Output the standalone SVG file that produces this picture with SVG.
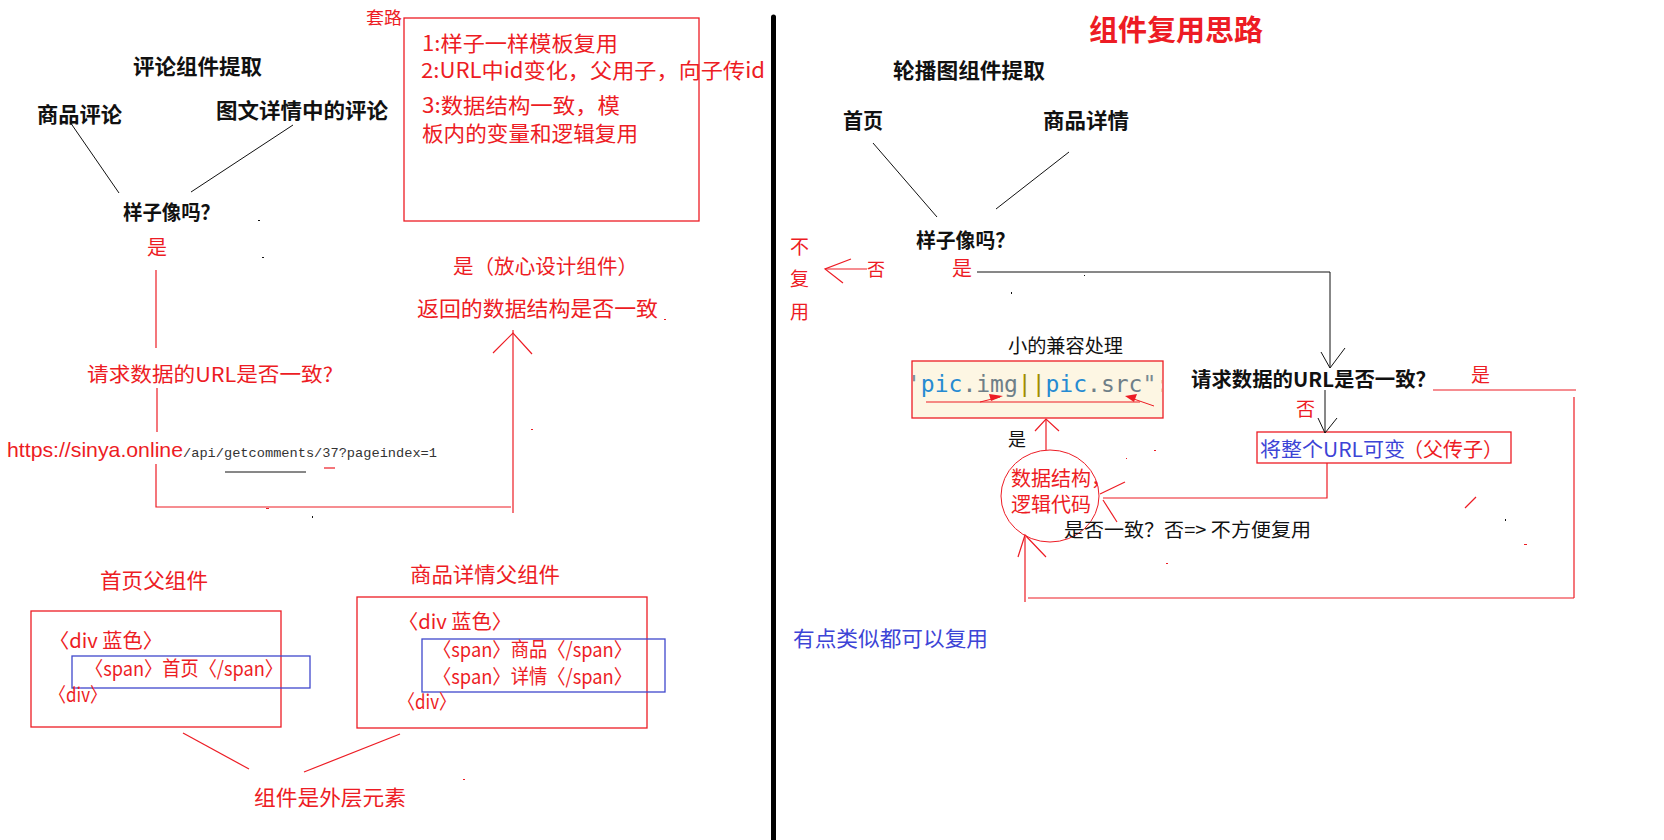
<svg xmlns="http://www.w3.org/2000/svg" width="1664" height="840" viewBox="0 0 1664 840">
  <style>
    .cjk { font-family: "Noto Sans CJK SC", "Noto Sans", sans-serif; }
    .red { fill: #ed1c24; }
    .blk { fill: #111111; }
    .blu { fill: #3d44d6; }
    .t20 { font-size: 20px; }
    .t21 { font-size: 21px; }
    .t19 { font-size: 19px; }
    .t18 { font-size: 18px; }
    .bold { font-weight: 600; }
    .ln  { fill: none; stroke: #111111; stroke-width: 1; }
    .rl  { fill: none; stroke: #ed1c24; stroke-width: 1.2; }
    .rbox { fill: none; stroke: #ed1c24; stroke-width: 1.3; }
    .bbox { fill: none; stroke: #3f48cc; stroke-width: 1.3; }
    .code { font-family: "DejaVu Sans Mono", "Liberation Mono", monospace; font-size: 23px; }
    .dot { fill: #111111; }
    .rdot { fill: #ed1c24; }
  </style>
  <defs>
    <clipPath id="codeClip">
      <rect x="913" y="362" width="249" height="55"/>
    </clipPath>
  </defs>

  <rect x="0" y="0" width="1664" height="840" fill="#ffffff"/>

  <!-- divider between the two halves -->
  <line x1="773.5" y1="17" x2="773.5" y2="840" stroke="#000000" stroke-width="5" stroke-linecap="round"/>

  <!-- ========== left half: comment component ========== -->
  <g id="title-comment">
    <text class="cjk blk t21 bold" x="133" y="73.5" textLength="129" lengthAdjust="spacingAndGlyphs">评论组件提取</text>
  </g>
  <g id="node-goods-comment">
    <text class="cjk blk t21 bold" x="37" y="121.5" textLength="85" lengthAdjust="spacingAndGlyphs">商品评论</text>
  </g>
  <g id="node-detail-comment">
    <text class="cjk blk t21 bold" x="216" y="117.5" textLength="172" lengthAdjust="spacingAndGlyphs">图文详情中的评论</text>
  </g>
  <g id="node-alike-left">
    <text class="cjk blk t20 bold" x="123" y="220" textLength="97" lengthAdjust="spacingAndGlyphs">样子像吗？</text>
  </g>
  <g id="label-yes-left">
    <text class="cjk red t20" x="147" y="255">是</text>
  </g>
  <g id="node-url-same-left">
    <text class="cjk red t20" x="87" y="381.5" textLength="246" lengthAdjust="spacingAndGlyphs">请求数据的URL是否一致?</text>
  </g>
  <g id="node-url">
    <text x="7" y="457" font-family="Liberation Sans, Arial, sans-serif" font-size="21" fill="#ed1c24" textLength="176" lengthAdjust="spacingAndGlyphs">https://sinya.online</text>
    <text x="183" y="457" font-family="Liberation Mono, DejaVu Sans Mono, monospace" font-size="13.6" fill="#333333" textLength="254" lengthAdjust="spacingAndGlyphs">/api/getcomments/37?pageindex=1</text>
    <line x1="225" y1="472" x2="306" y2="472" stroke="#111111" stroke-width="1"/>
    <line x1="324" y1="468" x2="335" y2="468" stroke="#ed1c24" stroke-width="1.2"/>
  </g>
  <g id="node-design-ok">
    <text class="cjk red t20" x="453" y="273.5" textLength="185" lengthAdjust="spacingAndGlyphs">是（放心设计组件）</text>
  </g>
  <g id="node-data-same-left">
    <text class="cjk red t21" x="417" y="316" textLength="241" lengthAdjust="spacingAndGlyphs">返回的数据结构是否一致</text>
  </g>

  <g id="node-routine">
    <text class="cjk red" font-size="17" x="366" y="24" textLength="36" lengthAdjust="spacingAndGlyphs">套路</text>
    <rect class="rbox" x="404" y="18" width="295" height="203"/>
    <text class="cjk red t21" x="422" y="50.5" textLength="196" lengthAdjust="spacingAndGlyphs">1:样子一样模板复用</text>
    <text class="cjk red t21" x="421" y="77.5" textLength="344" lengthAdjust="spacingAndGlyphs">2:URL中id变化，父用子，向子传id</text>
    <text class="cjk red t21" x="422" y="112.5" textLength="198" lengthAdjust="spacingAndGlyphs">3:数据结构一致，模</text>
    <text class="cjk red t21" x="422" y="140.5" textLength="216" lengthAdjust="spacingAndGlyphs">板内的变量和逻辑复用</text>
  </g>

  <g id="node-home-parent">
    <text class="cjk red t21" x="100" y="588" textLength="108" lengthAdjust="spacingAndGlyphs">首页父组件</text>
    <rect class="rbox" x="31" y="611" width="250" height="116"/>
    <rect class="bbox" x="72" y="656" width="238" height="32"/>
    <text class="cjk red t20" x="49" y="647.5" textLength="114" lengthAdjust="spacingAndGlyphs">〈div 蓝色〉</text>
    <text class="cjk red t20" x="85" y="675.5" textLength="198" lengthAdjust="spacingAndGlyphs">〈span〉首页〈/span〉</text>
    <text class="cjk red t20" x="49" y="701.5" textLength="58" lengthAdjust="spacingAndGlyphs">〈div〉</text>
  </g>

  <g id="node-detail-parent">
    <text class="cjk red t21" x="410" y="582" textLength="150" lengthAdjust="spacingAndGlyphs">商品详情父组件</text>
    <rect class="rbox" x="357" y="597" width="290" height="131"/>
    <rect class="bbox" x="422" y="639" width="243" height="53"/>
    <text class="cjk red t20" x="398" y="629" textLength="114" lengthAdjust="spacingAndGlyphs">〈div 蓝色〉</text>
    <text class="cjk red t20" x="433" y="656.5" textLength="199" lengthAdjust="spacingAndGlyphs">〈span〉商品〈/span〉</text>
    <text class="cjk red t20" x="433" y="683.5" textLength="199" lengthAdjust="spacingAndGlyphs">〈span〉详情〈/span〉</text>
    <text class="cjk red t20" x="398" y="708.5" textLength="58" lengthAdjust="spacingAndGlyphs">〈div〉</text>
  </g>

  <g id="node-outer-element">
    <text class="cjk red t21" x="254" y="805" textLength="152" lengthAdjust="spacingAndGlyphs">组件是外层元素</text>
  </g>

  <!-- ========== right half: carousel component ========== -->
  <g id="title-main">
    <text class="cjk red bold" font-size="29" x="1089" y="41" font-weight="bold" textLength="174" lengthAdjust="spacingAndGlyphs">组件复用思路</text>
  </g>
  <g id="title-carousel">
    <text class="cjk blk t21 bold" x="893" y="77.5" textLength="152" lengthAdjust="spacingAndGlyphs">轮播图组件提取</text>
  </g>
  <g id="node-home">
    <text class="cjk blk t21 bold" x="843" y="127.5" textLength="40" lengthAdjust="spacingAndGlyphs">首页</text>
  </g>
  <g id="node-goods-detail">
    <text class="cjk blk t21 bold" x="1043" y="127.5" textLength="86" lengthAdjust="spacingAndGlyphs">商品详情</text>
  </g>
  <g id="node-alike-right">
    <text class="cjk blk t20 bold" x="916" y="247.5" textLength="99" lengthAdjust="spacingAndGlyphs">样子像吗？</text>
  </g>
  <g id="node-no-reuse">
    <text class="cjk red t19" x="790" y="253.5">不</text>
    <text class="cjk red t19" x="790" y="285.5">复</text>
    <text class="cjk red t19" x="790" y="319">用</text>
  </g>
  <g id="label-no-right">
    <text class="cjk red t18" x="867" y="276">否</text>
  </g>
  <g id="label-yes-right">
    <text class="cjk red t20" x="952" y="276">是</text>
  </g>
  <g id="node-url-same-right">
    <text class="cjk blk t20 bold" x="1191" y="386.5" textLength="245" lengthAdjust="spacingAndGlyphs">请求数据的URL是否一致？</text>
  </g>
  <g id="label-yes-url">
    <text class="cjk red t19" x="1471" y="381.5">是</text>
  </g>
  <g id="label-no-url">
    <text class="cjk red t19" x="1296" y="415.5">否</text>
  </g>
  <g id="node-url-variable">
    <rect class="rbox" x="1257" y="432" width="254" height="31"/>
    <text class="cjk blu t20" x="1260" y="457" textLength="145" lengthAdjust="spacingAndGlyphs">将整个URL可变</text>
    <text class="cjk red t20" x="1403" y="457" textLength="100" lengthAdjust="spacingAndGlyphs">（父传子）</text>
  </g>
  <g id="node-compat">
    <text class="cjk blk t19" x="1008" y="353" textLength="115" lengthAdjust="spacingAndGlyphs">小的兼容处理</text>
    <rect x="912" y="361" width="251" height="57" fill="#fdf6e3" stroke="#ed1c24" stroke-width="1.3"/>
    <text class="code" x="907" y="392" clip-path="url(#codeClip)"><tspan fill="#7a8a92">'</tspan><tspan fill="#268bd2">pic</tspan><tspan fill="#6f7f88">.img</tspan><tspan fill="#a08c00">||</tspan><tspan fill="#268bd2">pic</tspan><tspan fill="#6f7f88">.src</tspan><tspan fill="#7a8a92">":</tspan></text>
    <line x1="926" y1="402" x2="1140" y2="402" stroke="#ed1c24" stroke-width="1.2"/>
    <line x1="980" y1="402" x2="1000" y2="397" stroke="#ed1c24" stroke-width="1"/>
    <polygon points="1003,396 989,394 991,401" fill="#ed1c24"/>
    <line x1="1154" y1="406" x2="1128" y2="397" stroke="#ed1c24" stroke-width="1"/>
    <polygon points="1125,396 1137,394 1134,402" fill="#ed1c24"/>
  </g>
  <g id="label-yes-compat">
    <text class="cjk blk t18" x="1008" y="445.5">是</text>
  </g>
  <g id="node-data-logic">
    <ellipse cx="1050" cy="496" rx="49" ry="46" fill="none" stroke="#ed1c24" stroke-width="1"/>
    <text class="cjk red t20" x="1011" y="485.5" textLength="100" lengthAdjust="spacingAndGlyphs">数据结构，</text>
    <text class="cjk red t20" x="1011" y="512" textLength="80" lengthAdjust="spacingAndGlyphs">逻辑代码</text>
  </g>
  <g id="node-data-same-right">
    <text class="cjk blk t19" x="1064" y="537" textLength="247" lengthAdjust="spacingAndGlyphs">是否一致？否=&gt; 不方便复用</text>
  </g>
  <g id="node-similar">
    <text class="cjk blu t21" x="793" y="646" textLength="195" lengthAdjust="spacingAndGlyphs">有点类似都可以复用</text>
  </g>

  <!-- ========== connectors ========== -->
  <g id="connectors">
    <!-- left tree -->
    <line class="ln" x1="70" y1="122" x2="119" y2="193"/>
    <line class="ln" x1="293" y1="125" x2="191" y2="192"/>
    <line class="rl" x1="156" y1="270" x2="156" y2="348"/>
    <line class="rl" x1="157" y1="388" x2="157" y2="432"/>
    <polyline class="rl" points="156,464 156,507 511,507"/>
    <line class="rl" x1="513" y1="330" x2="513" y2="513"/>
    <polyline class="rl" points="493,353 513,333 532,354"/>
    <line class="rl" x1="183" y1="733" x2="249" y2="769"/>
    <line class="rl" x1="400" y1="734" x2="304" y2="772"/>

    <!-- right tree -->
    <line class="ln" x1="873" y1="143" x2="937" y2="217"/>
    <line class="ln" x1="1069" y1="152" x2="996" y2="209"/>
    <line class="rl" x1="825" y1="269" x2="867" y2="269"/>
    <polyline class="rl" points="851,259 825,269 843,283"/>
    <polyline class="ln" points="977,272 1330,272 1330,368"/>
    <polyline class="ln" points="1321,352 1330,368 1345,348"/>
    <line class="ln" x1="1325" y1="390" x2="1325" y2="433"/>
    <polyline class="ln" points="1318,418 1325,433 1337,418"/>
    <polyline class="rl" points="1433,390 1576,390"/>
    <line class="rl" x1="1574" y1="397" x2="1574" y2="598"/>
    <line class="rl" x1="1028" y1="598" x2="1574" y2="598"/>
    <line class="rl" x1="1025" y1="602" x2="1025" y2="537"/>
    <polyline class="rl" points="1018,557 1025,535 1046,557"/>
    <polyline class="rl" points="1327,463 1327,498 1103,498"/>
    <line class="rl" x1="1125" y1="482" x2="1100" y2="494"/>
    <line class="rl" x1="1117" y1="522" x2="1103" y2="500"/>
    <line class="rl" x1="1046" y1="450" x2="1046" y2="419"/>
    <polyline class="rl" points="1035,431 1046,419 1059,431"/>
    <line class="rl" x1="1465" y1="508" x2="1476" y2="497"/>
  </g>

  <!-- stray pen marks -->
  <g id="marks">
    <rect class="dot" x="258" y="220" width="2" height="1"/>
    <rect class="dot" x="262" y="257" width="2" height="1"/>
    <rect class="rdot" x="664" y="319" width="2" height="1"/>
    <rect class="rdot" x="531" y="429" width="2" height="1"/>
    <rect class="rdot" x="266" y="508" width="3" height="1"/>
    <rect class="dot" x="312" y="516" width="1" height="2"/>
    <rect class="rdot" x="463" y="779" width="2" height="1"/>
    <rect class="dot" x="1084" y="275" width="1" height="1"/>
    <rect class="dot" x="1011" y="292" width="1" height="2"/>
    <rect class="rdot" x="1154" y="450" width="2" height="1"/>
    <rect class="rdot" x="1126" y="458" width="1" height="1"/>
    <rect class="rdot" x="1166" y="563" width="2" height="1"/>
    <rect class="dot" x="1505" y="519" width="1" height="2"/>
    <rect class="rdot" x="1524" y="544" width="3" height="1"/>
  </g>
</svg>
